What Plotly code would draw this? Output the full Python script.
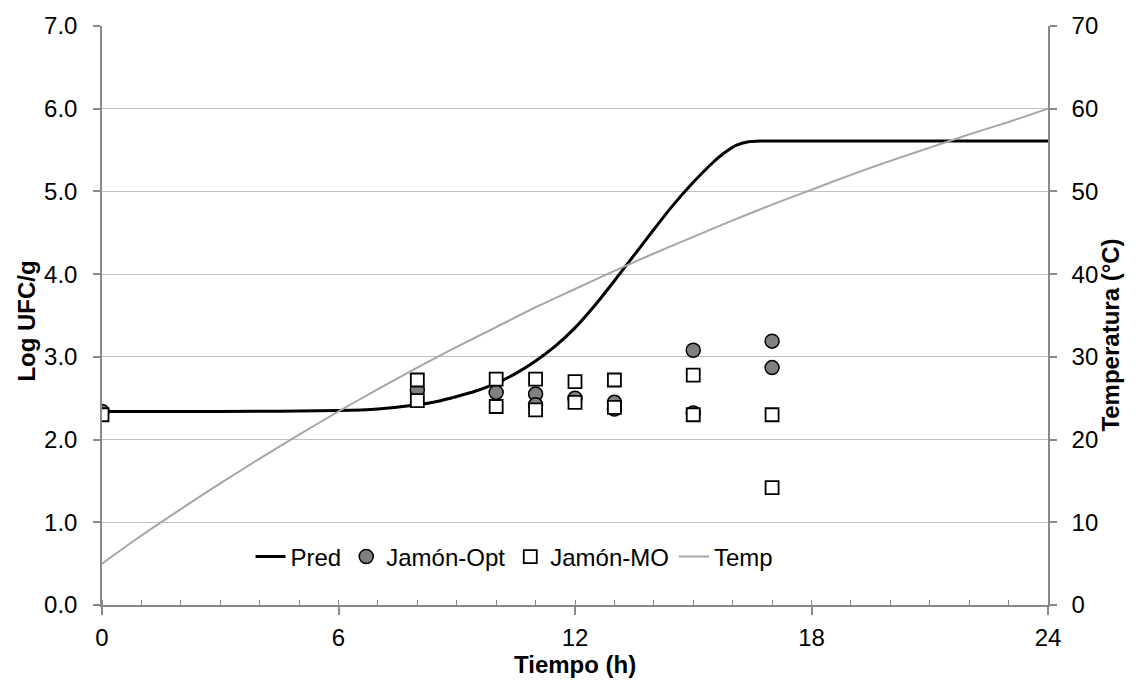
import plotly.graph_objects as go

# Predicted growth curve (log UFC/g vs hours)
pred_t = [0, 2, 4, 5, 6, 7, 8, 8.5, 9, 9.5, 10, 10.5, 11, 11.5, 12, 12.5, 13,
          13.5, 14, 14.5, 15, 15.5, 15.8, 16.1, 16.4, 16.7, 17, 18, 20, 22, 24]
pred_v = [2.34, 2.34, 2.342, 2.345, 2.35, 2.37, 2.42, 2.46, 2.52, 2.59, 2.68,
          2.80, 2.95, 3.13, 3.35, 3.62, 3.92, 4.23, 4.54, 4.84, 5.11, 5.35,
          5.47, 5.56, 5.60, 5.61, 5.61, 5.61, 5.61, 5.61, 5.61]

# Observed counts
opt_t = [0, 8, 10, 11, 11, 12, 13, 13, 15, 15, 17, 17]
opt_v = [2.34, 2.60, 2.57, 2.55, 2.42, 2.50, 2.45, 2.37, 3.08, 2.32, 3.19, 2.87]

mo_t = [0, 8, 8, 10, 10, 11, 11, 12, 12, 13, 13, 15, 15, 17, 17]
mo_v = [2.30, 2.72, 2.47, 2.73, 2.40, 2.73, 2.36, 2.70, 2.45, 2.72, 2.39,
        2.78, 2.30, 2.30, 1.42]

# Temperature profile (°C)
temp_t = list(range(0, 25))
temp_v = [5.0, 8.4, 11.6, 14.7, 17.7, 20.6, 23.4, 26.1, 28.7, 31.2, 33.6, 36.0,
          38.2, 40.4, 42.5, 44.5, 46.5, 48.4, 50.2, 52.0, 53.7, 55.3, 56.9,
          58.4, 60.0]

x_ticks = [0, 6, 12, 18, 24]

FONT = "Liberation Sans, Arial, sans-serif"
FS = 24
AXIS = "#898989"
GRID = "#c0c0c0"

fig = go.Figure()

fig.add_trace(go.Scatter(
    x=pred_t, y=pred_v, name="Pred", mode="lines",
    line=dict(color="black", width=3, shape="spline", smoothing=0.4),
))
fig.add_trace(go.Scatter(
    x=opt_t, y=opt_v, name="Jamón-Opt", mode="markers",
    marker=dict(symbol="circle", size=14, color="#808080",
                line=dict(color="black", width=1.5)),
))
fig.add_trace(go.Scatter(
    x=mo_t, y=mo_v, name="Jamón-MO", mode="markers",
    marker=dict(symbol="square", size=13, color="white",
                line=dict(color="black", width=1.8)),
))
fig.add_trace(go.Scatter(
    x=temp_t, y=temp_v, name="Temp", mode="lines", yaxis="y2",
    line=dict(color="#a6a6a6", width=2, shape="spline", smoothing=0.6),
))

fig.update_layout(
    width=1136, height=685,
    margin=dict(l=102, r=88, t=22, b=80),
    paper_bgcolor="white", plot_bgcolor="white",
    font=dict(family=FONT, size=FS, color="black"),
    showlegend=True,
    legend=dict(orientation="h", x=0.157, y=0.083, xanchor="left",
                yanchor="middle", bgcolor="rgba(0,0,0,0)",
                font=dict(size=FS), itemwidth=30, tracegroupgap=0),
    xaxis=dict(
        range=[0, 24], tickvals=x_ticks, ticktext=[str(v) for v in x_ticks],
        showgrid=False, zeroline=False,
        showline=True, linecolor=AXIS, linewidth=1.5,
        ticks="outside", ticklen=8, tickcolor=AXIS, tickwidth=1.5,
        minor=dict(dtick=1, ticks="inside", ticklen=5, tickcolor=AXIS,
                   tickwidth=1, showgrid=False),
        tickfont=dict(size=FS), ticklabelstandoff=2,
    ),
    yaxis=dict(
        range=[0, 7], dtick=1, tickformat=".1f",
        showgrid=True, gridcolor=GRID, gridwidth=1.2, zeroline=False,
        showline=True, linecolor=AXIS, linewidth=1.5,
        ticks="outside", ticklen=7, tickcolor=AXIS, tickwidth=1.5,
        tickfont=dict(size=FS), ticklabelstandoff=11,
    ),
    yaxis2=dict(
        range=[0, 70], dtick=10, overlaying="y", side="right",
        showgrid=False, zeroline=False,
        showline=True, linecolor=AXIS, linewidth=1.5,
        ticks="outside", ticklen=7, tickcolor=AXIS, tickwidth=1.5,
        tickfont=dict(size=FS), ticklabelstandoff=10,
    ),
    annotations=[
        dict(text="<b>Tiempo (h)</b>", xref="paper", yref="paper",
             x=0.5, y=-0.103, xanchor="center", yanchor="middle",
             showarrow=False, font=dict(size=FS)),
        dict(text="<b>Log UFC/g</b>", xref="paper", yref="paper",
             x=-0.08, y=0.49, xanchor="center", yanchor="middle",
             textangle=-90, showarrow=False, font=dict(size=FS)),
        dict(text="<b>Temperatura (°C)</b>", xref="paper", yref="paper",
             x=1.066, y=0.466, xanchor="center", yanchor="middle",
             textangle=-90, showarrow=False, font=dict(size=FS)),
    ],
)

fig.write_html("out.html")
